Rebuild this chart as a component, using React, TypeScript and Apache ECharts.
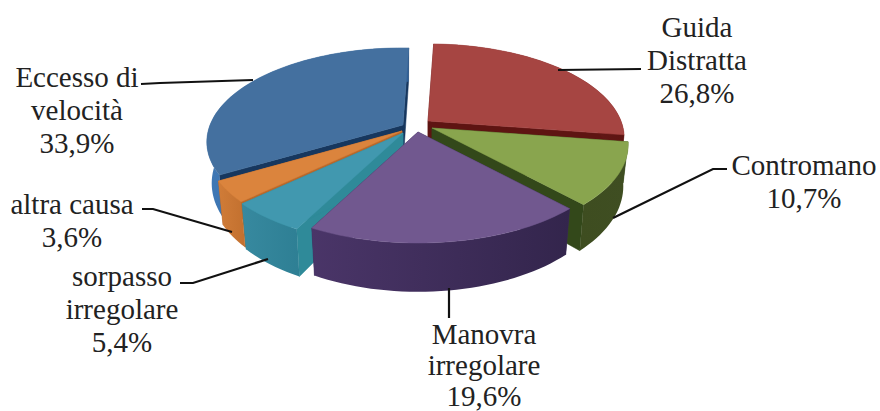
import React, { useEffect, useRef } from "react";
import * as echarts from "echarts";

const CATEGORIES = ["Guida\nDistratta", "Contromano", "Manovra\nirregolare", "sorpasso\nirregolare", "altra causa", "Eccesso di\nvelocità"];
const VALUES = [26.8, 10.7, 19.6, 5.4, 3.6, 33.9];

// styling / layout, per slice in the same order as CATEGORIES
const TOP_COLORS = ["#A64542", "#89A54E", "#71588F", "#4198AF", "#DB843D", "#44709F"];
const RADIAL_COLORS = ["#5E1412", "#33481A", "#3B2A58", "#2F8A99", "#B9682B", "#17375E"];
const WALL_LEFT = ["#6E2A28", "#3E4D20", "#4A3568", "#37899F", "#D07C38", "#3F78B5"];
const WALL_RIGHT = ["#5E1412", "#3F4E22", "#33254C", "#2E7F94", "#C2702F", "#2F5F96"];
const EXPLODE = [[13, -6], [17, 1], [3, 5], [-12, 6], [-13, 4], [-12, -2]];
const DRAW_ORDER = [5, 0, 4, 1, 3, 2];
const LABEL_POS = [[697, 60], [804, 181], [484, 365], [122, 309], [72, 220], [77, 110]];
const LABEL_LINE_HEIGHT = [33, 33, 31, 33, 33, 33];
const LEADERS = [
  [[641, 69], [558, 70]],
  [[727, 169], [713, 169], [613, 218]],
  [[449, 318], [449, 288]],
  [[180, 283], [193, 283], [268, 259]],
  [[142, 209], [153, 209], [232, 232]],
  [[141, 84], [160, 83], [253, 80]],
];

const CX = 415, CY = 127, RX = 193, RY = 91, PERSP = 0.18, DEPTH = 40, BOTTOM_SHRINK = 0.975, ROT = 2;

const TOTAL = VALUES.reduce((a, b) => a + b, 0);
const START_ANGLES: number[] = [];
VALUES.reduce((acc, v, i) => { START_ANGLES[i] = acc; return acc + (v / TOTAL) * 360; }, ROT);

function project(deg: number, r = 1) {
  const a = (deg * Math.PI) / 180;
  const X = Math.sin(a) * r, Y = Math.cos(a) * r;
  const s = 1 / (1 + PERSP * Y);
  return { x: RX * X * s, y: -RY * Y * s, s };
}

function renderSlice(params: any, api: any) {
  const idx = DRAW_ORDER[params.dataIndex];
  const sweep = (api.value(0) / TOTAL) * 360;
  const a0 = START_ANGLES[idx];
  const ox = CX + EXPLODE[idx][0], oy = CY + EXPLODE[idx][1];
  const top = (p: any) => [ox + p.x, oy + p.y];
  const bot = (p: any) => [ox + p.x * BOTTOM_SHRINK, oy + p.y + DEPTH * p.s];
  const steps = Math.max(8, Math.ceil(sweep / 2));
  const arc: any[] = [];
  for (let i = 0; i <= steps; i++) arc.push(project(a0 + (sweep * i) / steps));
  const apex = { x: 0, y: 0, s: 1 };
  const radial = (p: any) => ({
    type: "polygon",
    shape: { points: [top(apex), top(p), bot(p), bot(apex)] },
    style: { fill: RADIAL_COLORS[idx], stroke: RADIAL_COLORS[idx], lineWidth: 0.5 },
  });
  const wallFill = new echarts.graphic.LinearGradient(0, 0, 1, 0, [
    { offset: 0, color: WALL_LEFT[idx] },
    { offset: 1, color: WALL_RIGHT[idx] },
  ]);
  return {
    type: "group",
    children: [
      radial(arc[0]),
      radial(arc[arc.length - 1]),
      {
        type: "polygon",
        shape: { points: [...arc.map(top), ...arc.slice().reverse().map(bot)] },
        style: { fill: wallFill },
      },
      {
        type: "polygon",
        shape: { points: [top(apex), ...arc.map(top)] },
        style: { fill: TOP_COLORS[idx], stroke: TOP_COLORS[idx], lineWidth: 0.5 },
      },
    ],
  };
}

const pct = (v: number) => v.toFixed(1).replace(".", ",") + "%";

export default function App() {
  const ref = useRef<HTMLDivElement>(null);
  useEffect(() => {
    const chart = echarts.init(ref.current!, null, { renderer: "svg" });
    chart.setOption({
      animation: false,
      backgroundColor: "#ffffff",
      series: [
        {
          type: "custom",
          coordinateSystem: "none",
          renderItem: renderSlice,
          data: DRAW_ORDER.map((i) => [VALUES[i]]),
          silent: true,
        },
      ],
      graphic: [
        ...LEADERS.map((pts) => ({
          type: "polyline",
          shape: { points: pts },
          style: { stroke: "#111111", lineWidth: 2.2, fill: "none" },
          z: 10,
        })),
        ...CATEGORIES.map((c, i) => ({
          type: "text",
          x: LABEL_POS[i][0],
          y: LABEL_POS[i][1],
          style: {
            text: `${c}\n${pct(VALUES[i])}`,
            align: "center",
            verticalAlign: "middle",
            font: '29px "Liberation Serif"',
            lineHeight: LABEL_LINE_HEIGHT[i],
            fill: "#222222",
          },
          z: 11,
        })),
      ],
    });
    return () => chart.dispose();
  }, []);
  return <div ref={ref} style={{ position: "absolute", left: 0, top: 0, width: 880, height: 411 }} />;
}
